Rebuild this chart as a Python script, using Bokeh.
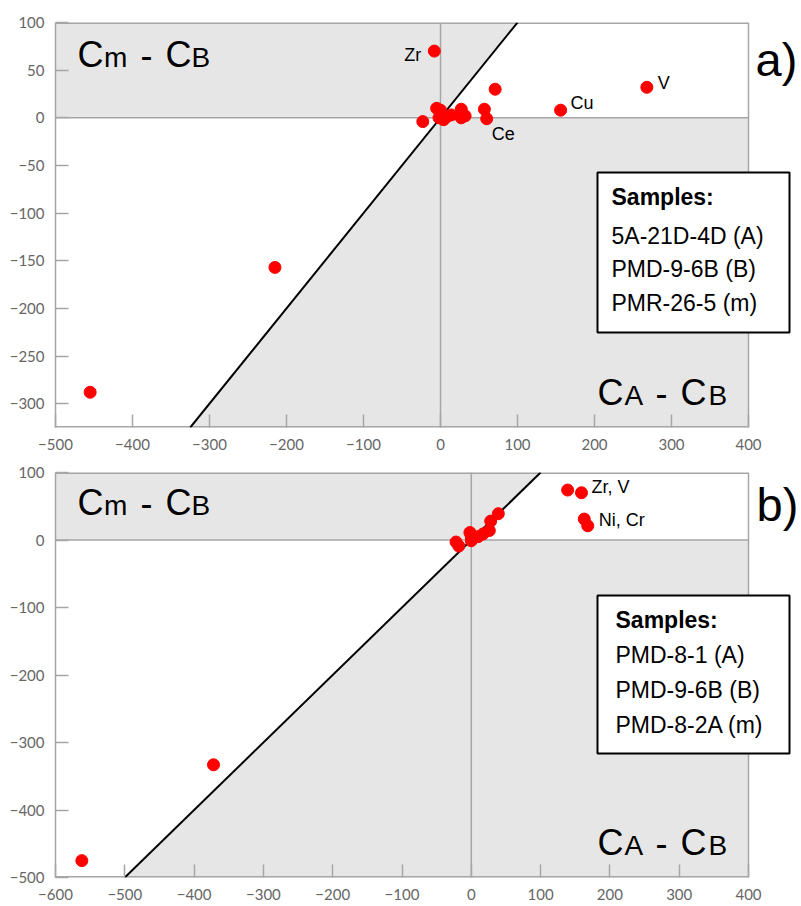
from bokeh.plotting import figure
from bokeh.layouts import column
from bokeh.models import Range1d, Label, BoxAnnotation, FixedTicker
from bokeh.embed import file_html
from bokeh.resources import INLINE

# ---------------- data: panel a ----------------
a_x = [-455, -215, -8, 268, 156, 71, 60, 57, -23, -5, 0, -2, 8, 14, 27, 27, 32, 4]
a_y = [-288, -157, 70, 32, 8, 30, -1, 9, -4, 10, 8, 0, 1, 3, 9, 0, 2, -2]
a_lab_text = ["Zr", "V", "Cu", "Ce"]
a_lab_x = [-8, 268, 156, 60]
a_lab_y = [70, 32, 8, -1]
a_samples = ["5A-21D-4D (A)", "PMD-9-6B (B)", "PMR-26-5 (m)"]
a_xrange = [-500, 400]
a_yrange = [-325, 100]
a_xticks = [-500, -400, -300, -200, -100, 0, 100, 200, 300, 400]
a_yticks = [-300, -250, -200, -150, -100, -50, 0, 50, 100]

# ---------------- data: panel b ----------------
b_x = [-562, -372, 139, 159, 163, 168, 39, 28, 26, 17, 10, -2, 0, 0, -22, -18]
b_y = [-475, -333, 74, 70, 31, 21, 39, 28, 14, 9, 5, 11, 5, -1, -3, -9]
b_lab_text = ["Zr, V", "Ni, Cr"]
b_lab_x = [159, 168]
b_lab_y = [70, 21]
b_samples = ["PMD-8-1 (A)", "PMD-9-6B (B)", "PMD-8-2A (m)"]
b_xrange = [-600, 400]
b_yrange = [-500, 100]
b_xticks = [-600, -500, -400, -300, -200, -100, 0, 100, 200, 300, 400]
b_yticks = [-500, -400, -300, -200, -100, 0, 100]

GRAY = "#e6e6e6"
AXIS = "#a6a6a6"
TICKLAB = "#666666"
RED = "#ff0000"
FONT = "Liberation Sans"
W = 801


def make_panel(xs, ys, xr, yr, xticks, yticks, lab_text, lab_x, lab_y, lab_offs,
               samples, panel_letter, height, top_border, bottom_border,
               page_top, cm_base, ca_base, box_px, text_left, text_bases, letter_pos):
    FL, FR_AXIS = 55, 748
    FT = page_top + top_border
    FB = page_top + height - bottom_border
    scale = (xr[1] - xr[0]) / (FR_AXIS - FL)
    x_ext = xr[1] + (W - FR_AXIS) * scale   # frame runs to the window edge

    def px2x(px):
        return xr[0] + (px - FL) * scale

    def py2y(py):
        return yr[1] - (py - FT) / (FB - FT) * (yr[1] - yr[0])

    p = figure(width=W, height=height, output_backend="svg", toolbar_location=None,
               x_range=Range1d(xr[0], x_ext), y_range=Range1d(yr[0], yr[1]),
               min_border_left=FL, min_border_right=0,
               min_border_top=top_border, min_border_bottom=bottom_border)
    p.background_fill_color = "white"
    p.border_fill_color = "white"
    p.outline_line_color = None
    p.xgrid.visible = False
    p.ygrid.visible = False

    for ax, ticks in ((p.xaxis, xticks), (p.yaxis, yticks)):
        ax.ticker = FixedTicker(ticks=ticks)
        ax.axis_line_color = AXIS
        ax.axis_line_width = 1.5
        ax.major_tick_line_color = AXIS
        ax.major_tick_line_width = 1.5
        ax.major_tick_in = 13
        ax.major_tick_out = 0
        ax.minor_tick_line_color = None
        ax.major_label_text_font = "Lato"
        ax.major_label_text_font_size = "15px"
        ax.major_label_text_color = TICKLAB
    p.xaxis.axis_line_color = None
    p.xaxis.major_label_standoff = 11
    p.yaxis.major_label_standoff = 11

    x0, x1 = xr
    y0, y1 = yr
    # shaded regions bounded by the 1:1 line
    p.patch([x0, 0, y1, x0], [0, 0, y1, y1], fill_color=GRAY, line_color=None)
    p.patch([0, x1, x1, y0], [0, 0, y0, y0], fill_color=GRAY, line_color=None)
    # plot-area border (bottom, top: half hidden by frame clip; right)
    p.segment(x0=[x0, x0], y0=[y0, y1], x1=[x1, x1], y1=[y0, y1], line_color=AXIS, line_width=3)
    p.segment(x0=[x1], y0=[y0], x1=[x1], y1=[y1], line_color=AXIS, line_width=1.5)
    # zero lines
    p.segment(x0=[x0, 0], y0=[0, y0], x1=[x1, 0], y1=[0, y1], line_color=AXIS, line_width=1.5)
    # 1:1 line
    lo = max(x0, y0)
    hi = min(x1, y1)
    p.line([lo, hi], [lo, hi], line_color="black", line_width=2)
    # points
    p.scatter(xs, ys, size=12, fill_color=RED, line_color=RED)

    # element labels (vertical anchor = centre of text)
    for t, lx, ly, (dx, dy, al) in zip(lab_text, lab_x, lab_y, lab_offs):
        p.add_layout(Label(x=lx, y=ly, text=t, x_offset=dx, y_offset=dy, text_align=al,
                           text_baseline="middle", text_font=FONT,
                           text_font_size="18px", text_color="black"))

    def txt(text, px, base, size, style="normal"):
        p.add_layout(Label(x=px2x(px), y=py2y(base - 0.35 * size), text=text,
                           text_font=FONT, text_font_size=f"{size}px",
                           text_font_style=style, text_baseline="middle",
                           text_align="left", text_color="black"))

    for t, off, size in [("C", 0, 36), ("m", 26.5, 28), ("-", 63, 36), ("C", 88, 36), ("B", 114, 28)]:
        txt(t, 77 + off, cm_base, size)
    for t, off, size in [("C", 0, 36), ("A", 27, 28), ("-", 58, 36), ("C", 83, 36), ("B", 111, 28)]:
        txt(t, 597 + off, ca_base, size)

    # panel letter
    txt(panel_letter, letter_pos[0], letter_pos[1], 47)

    # samples box
    bl, br, bt, bb = box_px
    p.add_layout(BoxAnnotation(left=px2x(bl), right=px2x(br), top=py2y(bt), bottom=py2y(bb),
                               fill_color="white", fill_alpha=1.0, line_color="black",
                               line_alpha=1.0, line_width=2, level="annotation"))
    lines = ["Samples:"] + samples
    for i, t in enumerate(lines):
        txt(t, text_left, text_bases[i], 23, "bold" if i == 0 else "normal")
    return p


pa = make_panel(a_x, a_y, a_xrange, a_yrange, a_xticks, a_yticks,
                a_lab_text, a_lab_x, a_lab_y,
                [(-13, -4.4, "right"), (11, 4.3, "left"), (10, 6.7, "left"), (5, -15.7, "left")],
                a_samples, "a)", 456, 22, 29, 0, 67, 405,
                (597, 789, 172, 332), 611, [205, 244, 277, 311], (755, 75))
pb = make_panel(b_x, b_y, b_xrange, b_yrange, b_xticks, b_yticks,
                b_lab_text, b_lab_x, b_lab_y,
                [(10, 5.3, "left"), (11, 5.8, "left")],
                b_samples, "b)", 450, 16, 29, 456, 515, 855,
                (597, 789, 595, 753), 615, [628, 663, 698, 733], (756, 520))

layout = column(pa, pb, spacing=0)
open("out.html", "w").write(file_html(layout, INLINE))
